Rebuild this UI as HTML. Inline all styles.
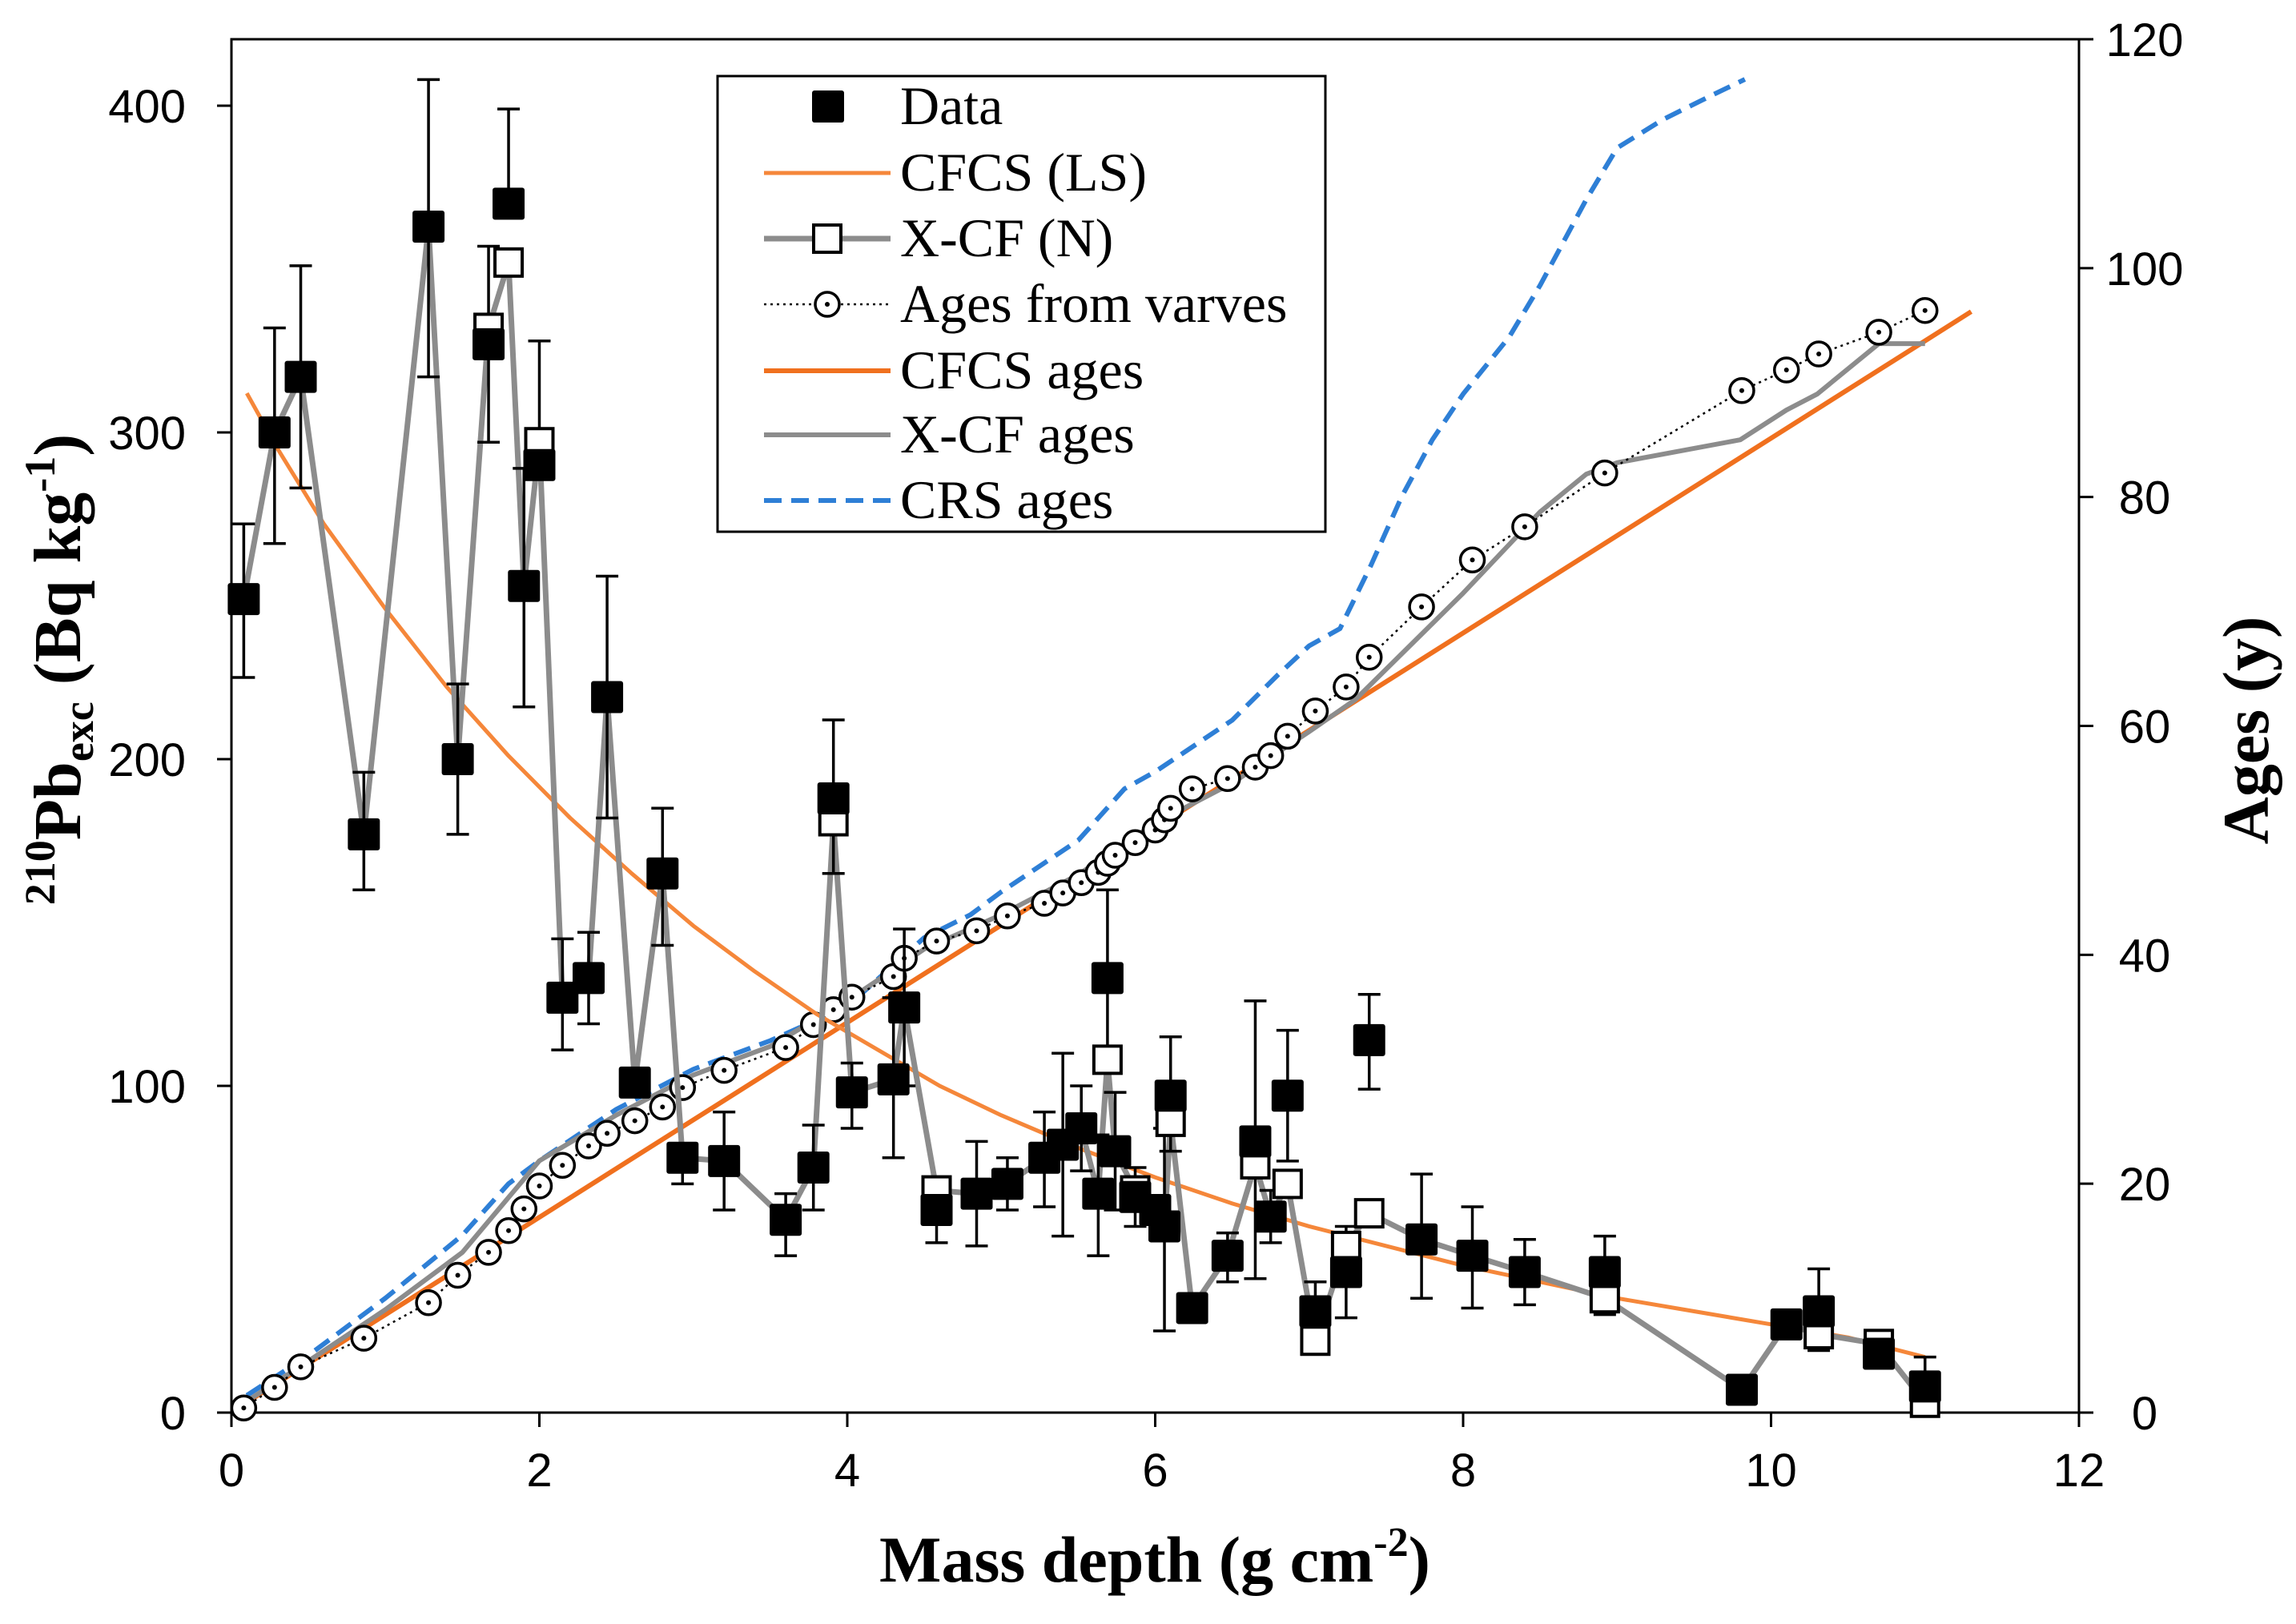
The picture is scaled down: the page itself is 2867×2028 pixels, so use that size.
<!DOCTYPE html>
<html><head><meta charset="utf-8"><style>
html,body{margin:0;padding:0;background:#fff}
svg{display:block}
</style></head><body>
<svg id="chart" width="2867" height="2028" viewBox="0 0 2867 2028" xmlns="http://www.w3.org/2000/svg"></svg>
<script>
const depth=[0.08,0.28,0.45,0.86,1.28,1.47,1.67,1.8,1.9,2.0,2.15,2.32,2.44,2.62,2.8,2.93,3.2,3.6,3.78,3.91,4.03,4.3,4.37,4.58,4.84,5.04,5.28,5.4,5.52,5.63,5.69,5.74,5.87,6.0,6.06,6.1,6.24,6.47,6.65,6.75,6.86,7.04,7.24,7.39,7.73,8.06,8.4,8.92,9.81,10.1,10.31,10.7,11.0];
const pbData=[249,300,317,177,363,200,327,370,253,290,127,133,219,101,165,78,77,59,75,188,98,102,124,62,67,70,78,82,87,67,133,80,66,62,57,97,32,48,83,60,97,31,43,114,53,48,43,43,7,27,31,18,8];
const errHi=[272,332,351,196,408,223,357,399,289,328,145,147,256,101,185,82,92,67,88,212,107,127,148,70,83,78,92,110,100,85,160,98,75,62,87,115,35,55,126,68,117,40,57,128,73,63,53,54,7,30,44,18,17];
const errLo=[225,266,283,160,317,177,297,370,216,290,111,119,182,101,143,70,62,48,62,165,87,78,100,52,51,62,63,54,74,48,107,62,57,62,25,80,28,40,41,52,77,22,29,99,35,32,33,30,7,27,19,18,0];
const xcf=[249,300,317,177,363,200,332,352,253,297,127,133,219,101,165,78,77,59,75,181,98,102,124,68,67,70,78,82,87,67,108,80,68,62,57,89,32,48,76,60,70,22,51,61,53,48,43,35,7,27,24,21,3];
const openIdx=[6,7,9,19,23,30,32,35,38,40,41,42,43,47,50,51,52];
const cfcsX=[0.1,0.3,0.6,1,1.4,1.8,2.2,2.6,3,3.4,3.8,4.2,4.6,5,5.5,6,6.5,7,7.5,8,8.5,9,9.5,10,10.5,11];
const cfcsY=[312,295,272,246,222,201,182,165,149,135,122,111,100,91,81,72,64,57,51,45,40,35,31,27,23,17];
const varveAge=[0.4,2.2,4,6.5,9.6,12,14,15.9,17.8,19.8,21.6,23.3,24.4,25.5,26.7,28.4,29.9,31.9,33.9,35.2,36.3,38.1,39.7,41.2,42.1,43.4,44.5,45.4,46.3,47.2,48,48.7,49.8,50.9,51.8,52.8,54.5,55.4,56.4,57.4,59.1,61.3,63.4,66,70.4,74.5,77.4,82.1,89.3,91.1,92.5,94.4,96.3];
const cfcsAgeX=[0.1,11.3];
const cfcsAgeY=[0.9,96.2];
const xcfAgeX=[0.1,0.5,1,1.5,2,2.5,3,3.5,4,4.5,5,5.5,6,6.5,7,7.3,8,8.5,8.8,9.0,9.8,10.1,10.3,10.7,11.0];
const xcfAgeY=[1,4.5,9,14,22,26,29.5,32,36,40.5,43.5,47,51.5,55,59.5,62.3,71.6,78.7,82,83,85,87.6,89,93.4,93.4];
const crsX=[0.1,0.5,1,1.5,1.8,2,2.5,3,3.5,4,4.5,4.8,5,5.5,5.8,6,6.5,6.8,7,7.2,7.4,7.6,7.8,8.0,8.3,8.5,8.8,9.0,9.3,9.6,9.83];
const crsY=[1.5,5,10,15.5,20,22,26.5,30,32.5,35.5,41.5,43.5,45.5,50,54.5,56,60.5,64.5,67,68.5,74,80,85,89,94,98.5,106,110.5,113,115,116.5];
const xTicks=[0,2,4,6,8,10,12];
const yTicks=[0,100,200,300,400];
const y2Ticks=[0,20,40,60,80,100,120];

const L=289,R=2596,T=49,B=1764;
const sx=v=>L+v*(R-L)/12;
const sy=v=>B-v*(B-132)/400;
const sy2=v=>B-v*(B-T)/120;
const NS='http://www.w3.org/2000/svg';
const svg=document.getElementById('chart');
function mk(tag,attrs,parent){const e=document.createElementNS(NS,tag);for(const k in attrs)e.setAttribute(k,attrs[k]);(parent||svg).appendChild(e);return e;}
const tickFont='"Liberation Sans", sans-serif';
let fr=mk('rect',{x:L,y:T,width:R-L,height:B-T,fill:'none',stroke:'#000','stroke-width':3});


xTicks.forEach(t=>{
  const ln=mk('line',{x1:sx(t),x2:sx(t),y1:B,y2:B+18,stroke:'#000','stroke-width':3});
  
  
  const tx=mk('text',{x:sx(t),y:B+92,'font-family':tickFont,'font-size':58,'text-anchor':'middle'});
  tx.textContent=t;
  
  
});
yTicks.forEach(t=>{
  const ln=mk('line',{x1:L-18,x2:L,y1:sy(t),y2:sy(t),stroke:'#000','stroke-width':3});
  
  
  const tx=mk('text',{x:L-57,y:sy(t)+21,'font-family':tickFont,'font-size':58,'text-anchor':'end'});
  tx.textContent=t;
  
  
});
y2Ticks.forEach(t=>{
  const ln=mk('line',{x1:R,x2:R+18,y1:sy2(t),y2:sy2(t),stroke:'#000','stroke-width':3});
  
  
  const tx=mk('text',{x:R+82,y:sy2(t)+21,'font-family':tickFont,'font-size':58,'text-anchor':'middle'});
  tx.textContent=t;
  
  
});
function poly(xs,ys,fx,fy,attrs,name){
  const p=mk('polyline',Object.assign({points:xs.map((x,i)=>sx(x)+','+fy(ys[i])).join(' '),fill:'none','stroke-linejoin':'round'},attrs));
  
  
  return p;
}
poly(crsX,crsY,sx,sy2,{stroke:'#2e7fd6','stroke-width':6,'stroke-dasharray':'22,12'},'crs-ages-line');
poly(cfcsAgeX,cfcsAgeY,sx,sy2,{stroke:'#f0701e','stroke-width':6},'cfcs-ages-line');
poly(xcfAgeX,xcfAgeY,sx,sy2,{stroke:'#8c8c8c','stroke-width':6},'xcf-ages-line');
poly(depth,varveAge,sx,sy2,{stroke:'#000','stroke-width':2.5,'stroke-dasharray':'3,5'},'varve-ages-line');
depth.forEach((d,i)=>{
  const c=mk('circle',{cx:sx(d),cy:sy2(varveAge[i]),r:15,fill:'#fff',stroke:'#000','stroke-width':3.5});
  
  
  const c2=mk('circle',{cx:sx(d),cy:sy2(varveAge[i]),r:3,fill:'#000'});
  
  
});
poly(cfcsX,cfcsY,sx,sy,{stroke:'#f5873a','stroke-width':5},'cfcs-ls-line');
poly(depth,xcf,sx,sy,{stroke:'#8c8c8c','stroke-width':7},'xcf-n-line');
depth.forEach((d,i)=>{
  const x=sx(d);
  if(errHi[i]!==errLo[i]){
    const g=mk('g',{stroke:'#000','stroke-width':3.5});
    
    
    mk('line',{x1:x,x2:x,y1:sy(errHi[i]),y2:sy(errLo[i])},g);
    mk('line',{x1:x-14,x2:x+14,y1:sy(errHi[i]),y2:sy(errHi[i])},g);
    mk('line',{x1:x-14,x2:x+14,y1:sy(errLo[i]),y2:sy(errLo[i])},g);
  }
});
openIdx.forEach(i=>{
  const r=mk('rect',{x:sx(depth[i])-17,y:sy(xcf[i])-17,width:34,height:34,fill:'#fff',stroke:'#000','stroke-width':4});
  
  
});
depth.forEach((d,i)=>{
  const r=mk('rect',{x:sx(d)-20,y:sy(pbData[i])-20,width:40,height:40,fill:'#000',rx:3});
  
  
});
const lg=mk('g',{});


mk('rect',{x:896,y:95,width:759,height:569,fill:'#fff',stroke:'#000','stroke-width':3},lg);
const ly=[133,216,298,380,463,543,625];
const labels=['Data','CFCS (LS)','X-CF (N)','Ages from varves','CFCS ages','X-CF ages','CRS ages'];
labels.forEach((t,i)=>{
  const tx=mk('text',{x:1124,y:ly[i]+22,'font-family':'"Liberation Serif", serif','font-size':68},lg);
  tx.textContent=t;
  
  
});
mk('rect',{x:1014,y:ly[0]-20,width:40,height:40,fill:'#000',rx:3},lg);
mk('line',{x1:954,x2:1112,y1:ly[1],y2:ly[1],stroke:'#f5873a','stroke-width':5},lg);
mk('line',{x1:954,x2:1112,y1:ly[2],y2:ly[2],stroke:'#8c8c8c','stroke-width':7},lg);
mk('rect',{x:1016,y:ly[2]-17,width:34,height:34,fill:'#fff',stroke:'#000','stroke-width':4},lg);
mk('line',{x1:954,x2:1112,y1:ly[3],y2:ly[3],stroke:'#000','stroke-width':2.5,'stroke-dasharray':'3,5'},lg);
mk('circle',{cx:1033,cy:ly[3],r:15,fill:'#fff',stroke:'#000','stroke-width':3.5},lg);
mk('circle',{cx:1033,cy:ly[3],r:3,fill:'#000'},lg);
mk('line',{x1:954,x2:1112,y1:ly[4],y2:ly[4],stroke:'#f0701e','stroke-width':6},lg);
mk('line',{x1:954,x2:1112,y1:ly[5],y2:ly[5],stroke:'#8c8c8c','stroke-width':6},lg);
mk('line',{x1:954,x2:1112,y1:ly[6],y2:ly[6],stroke:'#2e7fd6','stroke-width':6,'stroke-dasharray':'22,12'},lg);
</script>
<svg style="position:absolute;left:0;top:0" width="2867" height="2028">
<text x="1442" y="1975" font-family="Liberation Serif, serif" font-weight="bold" font-size="82" text-anchor="middle">Mass depth (g cm<tspan font-size="52" dy="-32">-2</tspan><tspan dy="32">)</tspan></text>
<text transform="translate(100,836) rotate(-90)" font-family="Liberation Serif, serif" font-weight="bold" font-size="84" text-anchor="middle"><tspan font-size="54" dy="-32">210</tspan><tspan dy="32">Pb</tspan><tspan font-size="54" dy="16">exc</tspan><tspan dy="-16"> (Bq kg</tspan><tspan font-size="54" dy="-32">-1</tspan><tspan dy="32">)</tspan></text>
<text transform="translate(2832,912) rotate(-90)" font-family="Liberation Serif, serif" font-weight="bold" font-size="82" text-anchor="middle">Ages (y)</text>
</svg>
</body></html>
